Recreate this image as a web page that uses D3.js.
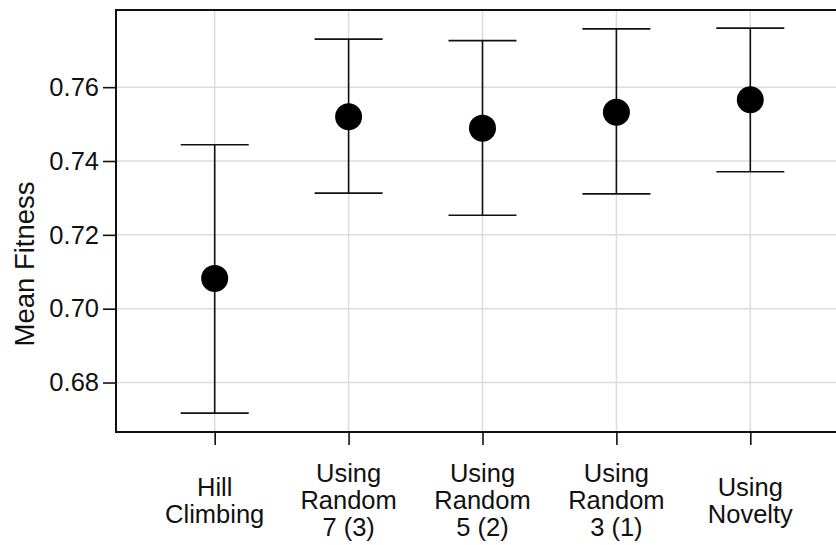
<!DOCTYPE html>
<html>
<head>
<meta charset="utf-8">
<script src="https://cdn.jsdelivr.net/npm/d3@7"></script>
<style>
  body { margin: 0; background: #fff; }
  svg { display: block; font-family: "Liberation Sans", Arial, Helvetica, sans-serif; }
</style>
</head>
<body>
<svg id="chart"></svg>
<script>
const width = 836;
const height = 545;

// data
const categories = ["Hill Climbing", "Using Random 7 (3)", "Using Random 5 (2)", "Using Random 3 (1)", "Using Novelty"];
const labelLines = [["Hill", "Climbing"], ["Using", "Random", "7 (3)"], ["Using", "Random", "5 (2)"], ["Using", "Random", "3 (1)"], ["Using", "Novelty"]];
const means = [0.7082, 0.7520, 0.7489, 0.7532, 0.7566];
const upper = [0.7444, 0.7730, 0.7726, 0.7758, 0.7760];
const lower = [0.6717, 0.7313, 0.7253, 0.7311, 0.7371];
const yTicks = [0.68, 0.70, 0.72, 0.74, 0.76];

const margin = {top: 10, left: 116, bottom: 113};
const plotRight = 849; // plot runs past the window edge

const svg = d3.select('#chart')
              .attr('width', width)
              .attr('height', height);

const x = d3.scalePoint()
            .domain(categories)
            .range([margin.left, plotRight])
            .padding(0.737);

const y = d3.scaleLinear()
            .domain([0.6666, 0.7809])
            .range([height - margin.bottom, margin.top]);

// grid
svg.append('g')
   .selectAll('line.h')
   .data(yTicks)
   .join('line')
   .attr('x1', margin.left)
   .attr('x2', plotRight)
   .attr('y1', function(d) { return y(d); })
   .attr('y2', function(d) { return y(d); })
   .attr('stroke', '#dcdcdc')
   .attr('stroke-width', 1.5);

svg.append('g')
   .selectAll('line.v')
   .data(categories)
   .join('line')
   .attr('x1', function(d) { return x(d); })
   .attr('x2', function(d) { return x(d); })
   .attr('y1', margin.top)
   .attr('y2', height - margin.bottom)
   .attr('stroke', '#dcdcdc')
   .attr('stroke-width', 1.5);

// error bars
const bars = svg.append('g')
                .selectAll('g')
                .data(categories)
                .join('g');

bars.append('line')
    .attr('x1', function(d) { return x(d); })
    .attr('x2', function(d) { return x(d); })
    .attr('y1', function(d, i) { return y(upper[i]); })
    .attr('y2', function(d, i) { return y(lower[i]); })
    .attr('stroke', '#111')
    .attr('stroke-width', 1.6);

[upper, lower].forEach(function(arr) {
    bars.append('line')
        .attr('x1', function(d) { return x(d) - 34; })
        .attr('x2', function(d) { return x(d) + 34; })
        .attr('y1', function(d, i) { return y(arr[i]); })
        .attr('y2', function(d, i) { return y(arr[i]); })
        .attr('stroke', '#111')
        .attr('stroke-width', 1.6);
});

bars.append('circle')
    .attr('cx', function(d) { return x(d); })
    .attr('cy', function(d, i) { return y(means[i]); })
    .attr('r', 13.5)
    .attr('fill', '#000');

// frame
svg.append('rect')
   .attr('x', margin.left)
   .attr('y', margin.top)
   .attr('width', plotRight - margin.left)
   .attr('height', height - margin.bottom - margin.top)
   .attr('fill', 'none')
   .attr('stroke', '#111')
   .attr('stroke-width', 2);

// y axis
const yAxis = svg.append('g')
                 .attr('transform', 'translate(' + margin.left + ',0)')
                 .call(d3.axisLeft(y)
                         .tickValues(yTicks)
                         .tickFormat(d3.format('.2f'))
                         .tickSize(13)
                         .tickPadding(4));
yAxis.select('.domain').remove();
yAxis.selectAll('.tick line').attr('stroke', '#111').attr('stroke-width', 1.6);
yAxis.selectAll('.tick text')
     .attr('font-size', 25.5)
     .attr('fill', '#111')
     .attr('font-family', '"Liberation Sans", Arial, sans-serif');

// x axis
const xAxis = svg.append('g')
                 .attr('transform', 'translate(0,' + (height - margin.bottom) + ')')
                 .call(d3.axisBottom(x).tickSize(13).tickFormat(''));
xAxis.select('.domain').remove();
xAxis.selectAll('.tick line').attr('stroke', '#111').attr('stroke-width', 1.6);

const lineH = 27;
svg.append('g')
   .selectAll('text')
   .data(categories)
   .join('text')
   .attr('text-anchor', 'middle')
   .attr('font-size', 25.5)
   .attr('fill', '#111')
   .each(function(d, i) {
       const lines = labelLines[i];
       const y0 = 509 - (lines.length - 1) * lineH / 2;
       d3.select(this)
         .selectAll('tspan')
         .data(lines)
         .join('tspan')
         .attr('x', x(d))
         .attr('y', function(t, j) { return y0 + j * lineH; })
         .text(function(t) { return t; });
   });

// y title
svg.append('text')
   .attr('transform', 'translate(33.5,264) rotate(-90)')
   .attr('text-anchor', 'middle')
   .attr('font-size', 27.5)
   .attr('fill', '#111')
   .text('Mean Fitness');
</script>
</body>
</html>
